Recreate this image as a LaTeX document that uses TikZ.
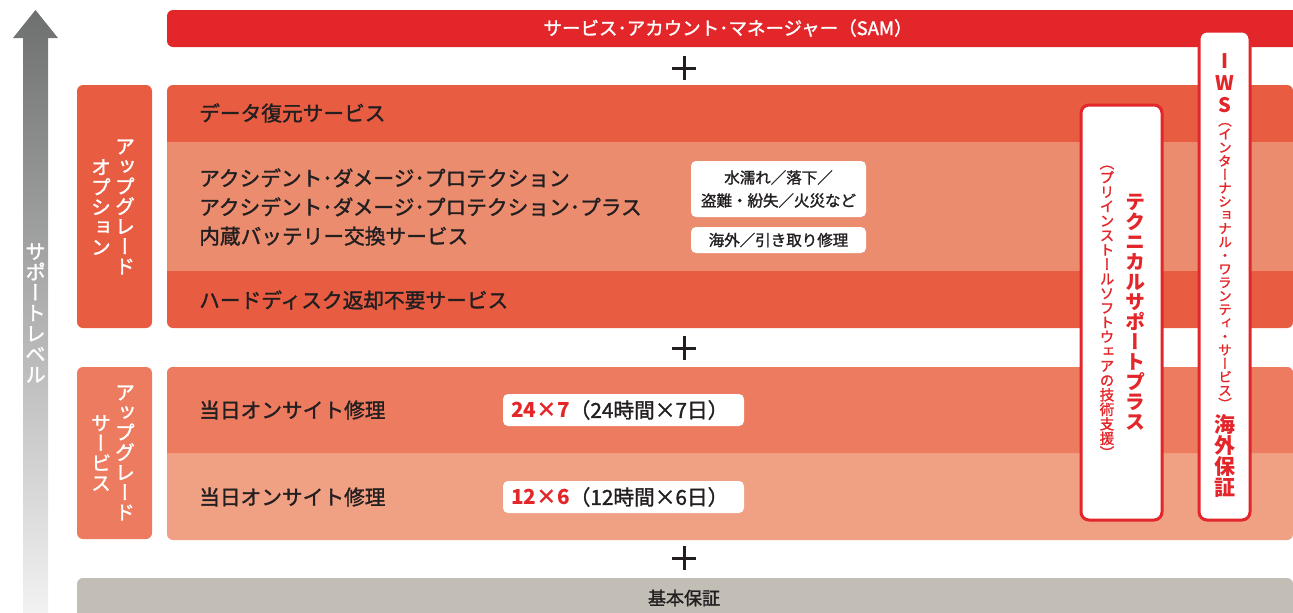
\documentclass[tikz,border=0pt]{standalone}
\usepackage{fontspec}
\setmainfont[UprightFeatures={FakeBold=1.5}]{Noto Sans CJK JP}
\newfontfamily\tatefont[RawFeature=+vert, UprightFeatures={FakeBold=1.5}]{Noto Sans CJK JP}
\definecolor{samred}{HTML}{E3262A}
\definecolor{optdark}{HTML}{E85C41}
\definecolor{optlight}{HTML}{EC8C6E}
\definecolor{svcdark}{HTML}{ED7B5F}
\definecolor{svclight}{HTML}{F0A083}
\definecolor{basegray}{HTML}{C2BEB6}
\definecolor{inkdark}{HTML}{231F20}
\definecolor{arrowtop}{HTML}{6E6F6F}
\definecolor{arrowmid}{HTML}{8A8B8B}
\definecolor{arrowbot}{HTML}{F2F2F2}
\newcommand\tate[2][1em]{\vbox{\tatefont\baselineskip=#1\lineskiplimit=-100pt\lineskip=0pt\tatei#2\relax}}
\def\tatei#1{\ifx\relax#1\else\hbox to1em{\hss#1\hss}\expandafter\tatei\fi}
\begin{document}
\begin{tikzpicture}[x=1pt, y=-1pt,
  rowtext/.style={anchor=west, inner sep=0pt, text=inkdark, font=\fontsize{20.7}{29}\selectfont, align=left},
  labeltext/.style={inner sep=0pt, text=white, font=\fontsize{20}{20}\selectfont},
  whitebox/.style={fill=white, rounded corners=5pt},
  tatebox/.style={draw=samred, line width=3pt, fill=white, rounded corners=8pt},
  boxtext/.style={inner sep=0pt, text=inkdark, font=\fontsize{15.5}{23}\selectfont, align=center},
  plusmark/.style={line width=3pt, draw=inkdark}]
\useasboundingbox (0,0) rectangle (1293,613);
\clip (0,0) rectangle (1293,613);

\shade[top color=arrowtop, middle color=arrowmid, bottom color=arrowbot] (23,613) -- (23,38) -- (13,38) -- (35.5,10) -- (58,38) -- (48,38) -- (48,613) -- cycle;
\node[labeltext, font=\fontsize{20.5}{20.5}\selectfont] (level) at (35.5,313) {\tate{サポートレベル}};

\fill[samred, rounded corners=6pt] (167,10) rectangle (1300,47);
\node[inner sep=0pt, text=white, font=\fontsize{18.5}{20}\selectfont] (sam) at (728,28) {サービス･アカウント･マネージャー（SAM）};

\foreach \py in {68,348,558}
  \draw[plusmark] (672,\py) -- (696,\py) (684,\py-12) -- (684,\py+12);

\fill[optdark, rounded corners=6pt] (77,85) rectangle (152,328);
\node[labeltext] (optlabela) at (125,207) {\tate{アップグレード}};
\node[labeltext] (optlabelb) at (101,207) {\tate{オプション}};
\fill[optdark, rounded corners=6pt] (167,85) rectangle (1293,328);
\fill[optlight] (167,142) rectangle (1293,271);
\node[rowtext] (datarec) at (199,113) {データ復元サービス};
\node[rowtext] (adp) at (199,207) {アクシデント･ダメージ･プロテクション\\アクシデント･ダメージ･プロテクション･プラス\\内蔵バッテリー交換サービス};
\node[rowtext] (hdd) at (199,300) {ハードディスク返却不要サービス};
\fill[whitebox] (691,161) rectangle (866,217);
\node[boxtext] (damage) at (778.5,189) {水濡れ／落下／\\盗難・紛失／火災など};
\fill[whitebox] (691,227) rectangle (866,253);
\node[boxtext] (pickup) at (778.5,240) {海外／引き取り修理};

\fill[svcdark, rounded corners=6pt] (77,367) rectangle (152,539);
\node[labeltext] (svclabela) at (125,453) {\tate{アップグレード}};
\node[labeltext] (svclabelb) at (101,453) {\tate{サービス}};
\fill[svclight, rounded corners=6pt] (167,367) rectangle (1293,540);
\fill[svcdark] (167,453) {[rounded corners=6pt] -- (167,367) -- (1293,367)} -- (1293,453) -- cycle;
\node[rowtext] (onsitea) at (199,410) {当日オンサイト修理};
\node[rowtext] (onsiteb) at (199,497) {当日オンサイト修理};
\fill[whitebox] (503,394) rectangle (744,426);
\node[rowtext] (hours247) at (511,410) {{\color{samred}\bfseries 24×7}（24時間×7日）};
\fill[whitebox] (503,481) rectangle (744,513);
\node[rowtext] (hours126) at (511,497) {{\color{samred}\bfseries 12×6}（12時間×6日）};

\fill[basegray, rounded corners=6pt] (77,578) rectangle (1293,625);
\node[inner sep=0pt, text=inkdark, font=\fontsize{18}{20}\selectfont] (basic) at (684,598) {基本保証};

\draw[tatebox] (1081,105) rectangle (1162,520);
\node[inner sep=0pt, text=samred, font=\fontsize{20}{20}\bfseries] (techplus) at (1135,312) {\tate{テクニカルサポートプラス}};
\node[inner sep=0pt, text=samred, font=\fontsize{14.5}{14.5}\selectfont] (techsub) at (1107,312) {\tate{（プリインストールソフトウェアの技術支援）}};

\draw[tatebox] (1199,31) rectangle (1250,520);
\node[inner sep=0pt, text=samred, font=\fontsize{20}{20}\bfseries] (iws) at (1225,83) {\tate[22pt]{IWS}};
\node[inner sep=0pt, text=samred, font=\fontsize{13.5}{13.5}\selectfont] (iwssub) at (1225,266) {\tate{（インターナショナル・ワランティ・サービス）}};
\node[inner sep=0pt, text=samred, font=\fontsize{21}{21}\bfseries] (kaigai) at (1225,456) {\tate{海外保証}};
\end{tikzpicture}
\end{document}
